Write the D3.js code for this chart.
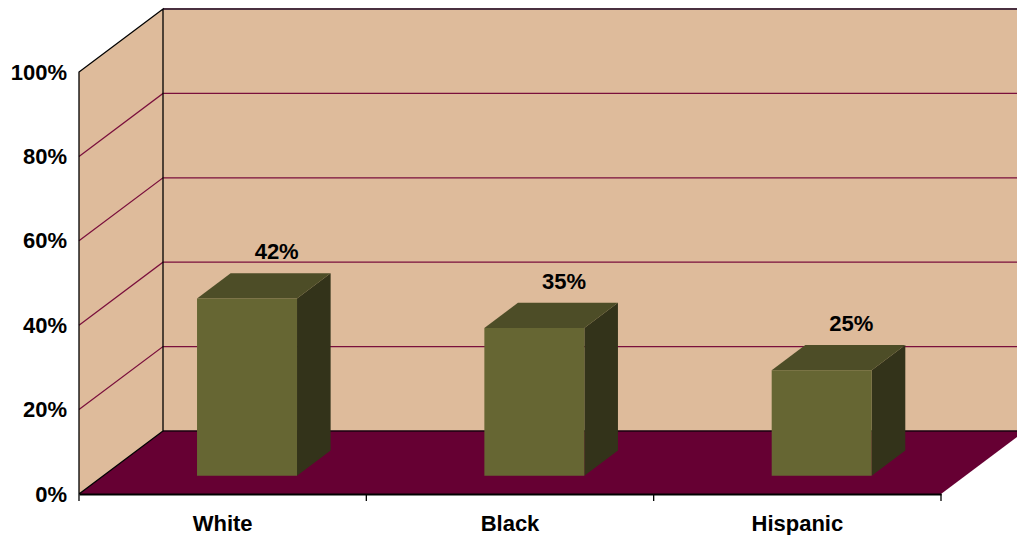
<!DOCTYPE html>
<html><head><meta charset="utf-8">
<script src="https://cdn.jsdelivr.net/npm/d3@7"></script>
<style>
html,body{margin:0;padding:0;background:#fff;overflow:hidden}
text{font-family:"Liberation Sans",Arial,sans-serif;font-weight:bold;fill:#000}
</style></head>
<body>
<svg id="c" width="1017" height="535"></svg>
<script>
const categories = ["White", "Black", "Hispanic"];
const values = [0.42, 0.35, 0.25];
const labels = ["42%", "35%", "25%"];
const yTicks = [0, 0.2, 0.4, 0.6, 0.8, 1.0];

const W = 1017, H = 535;
const x0 = 79, x1 = 941, yBase = 494, yTop = 72;
const DX = 84, DY = -63;           // depth offset of back wall
const zFront = 0.29, zBack = 0.69; // bar depth range
const barFrac = 0.348;

const svg = d3.select("#c");
const x = d3.scaleBand().domain(categories).range([x0, x1]).padding(0);
const y = d3.scaleLinear().domain([0, 1]).range([yBase, yTop]);
const P = (px, py, z) => [px + DX * z, py + DY * z];

const colors = {wall:"#DEBB9B", floor:"#660033", grid:"#7A0F3C", front:"#666633", top:"#4D4D27", side:"#33331A"};

// side wall
const sw = [P(x0, y(0), 0), P(x0, y(1), 0), P(x0, y(1), 1), P(x0, y(0), 1)];
svg.append("polygon").attr("points", sw.join(" ")).attr("fill", colors.wall);
// back wall
const bw = [P(x0, y(0), 1), P(x0, y(1), 1), P(x1 + 200, y(1), 1), P(x1 + 200, y(0), 1)];
svg.append("polygon").attr("points", bw.join(" ")).attr("fill", colors.wall);

// gridlines
yTicks.filter(v => v > 0 && v < 1).forEach(v => {
  const a = P(x0, y(v), 0), b = P(x0, y(v), 1), c = P(x1 + 200, y(v), 1);
  svg.append("polyline").attr("points", [a, b, c].join(" "))
    .attr("fill", "none").attr("stroke", colors.grid).attr("stroke-width", 1.2);
});
// top edge of back wall
svg.append("line").attr("x1", P(x0, y(1), 1)[0]).attr("y1", P(x0, y(1), 1)[1])
  .attr("x2", W + 10).attr("y2", P(x0, y(1), 1)[1]).attr("stroke", "#4a3040").attr("stroke-width", 2);

// floor
const fl = [P(x0, y(0), 0), P(x1, y(0), 0), P(x1, y(0), 1), P(x0, y(0), 1)];
svg.append("polygon").attr("points", fl.join(" ")).attr("fill", colors.floor);
svg.append("line").attr("x1", P(x0, y(0), 1)[0]).attr("y1", P(x0, y(0), 1)[1])
  .attr("x2", W + 10).attr("y2", P(x0, y(0), 1)[1]).attr("stroke", "#1a0010").attr("stroke-width", 1.5);

// wall outlines
svg.append("polyline").attr("points", [P(x0, y(0), 0), P(x0, y(1), 0), P(x0, y(1), 1), P(x0, y(0), 1), P(x0, y(0), 0)].join(" "))
  .attr("fill", "none").attr("stroke", "#000").attr("stroke-width", 1.3);

// bars
const bw2 = x.bandwidth() * barFrac;
categories.forEach((c, i) => {
  const v = values[i];
  const cx = x(c) + x.bandwidth() / 2;
  const l = cx - bw2 / 2, r = cx + bw2 / 2;
  const g = svg.append("g");
  const front = [P(l, y(0), zFront), P(r, y(0), zFront), P(r, y(v), zFront), P(l, y(v), zFront)];
  const side = [P(r, y(0), zFront), P(r, y(0), zBack), P(r, y(v), zBack), P(r, y(v), zFront)];
  const top = [P(l, y(v), zFront), P(r, y(v), zFront), P(r, y(v), zBack), P(l, y(v), zBack)];
  g.append("polygon").attr("points", side.join(" ")).attr("fill", colors.side);
  g.append("polygon").attr("points", top.join(" ")).attr("fill", colors.top);
  g.append("polygon").attr("points", front.join(" ")).attr("fill", colors.front);
  const lp = P(cx, y(v), zBack);
  svg.append("text").attr("x", cx + 54).attr("y", lp[1] - 14)
    .attr("text-anchor", "middle").attr("font-size", 22).text(labels[i]);
});

// category axis
const xAxis = d3.axisBottom(x).tickSize(0).tickPadding(21);
const gx = svg.append("g").attr("transform", `translate(0,${yBase})`).call(xAxis);
gx.select(".domain").attr("stroke", "#000").attr("stroke-width", 2);
gx.selectAll("text").attr("font-size", 22).attr("font-family", "Liberation Sans, Arial, sans-serif")
  .attr("font-weight", "bold").attr("fill", "#000").attr("dy", "0.71em");
const bounds = categories.map(c => x(c)).concat([x1]);
gx.selectAll(".bnd").data(bounds).join("line").attr("class", "bnd")
  .attr("x1", d => d).attr("x2", d => d).attr("y1", 0).attr("y2", 7).attr("stroke", "#000").attr("stroke-width", 1.3);

// value axis
const yAxis = d3.axisLeft(y).tickValues(yTicks).tickFormat(d3.format(".0%")).tickSize(0).tickPadding(12);
const gy = svg.append("g").attr("transform", `translate(${x0},0)`).call(yAxis);
gy.select(".domain").remove();
gy.selectAll("text").attr("font-size", 22).attr("font-family", "Liberation Sans, Arial, sans-serif")
  .attr("font-weight", "bold").attr("fill", "#000");
</script>
</body></html>
